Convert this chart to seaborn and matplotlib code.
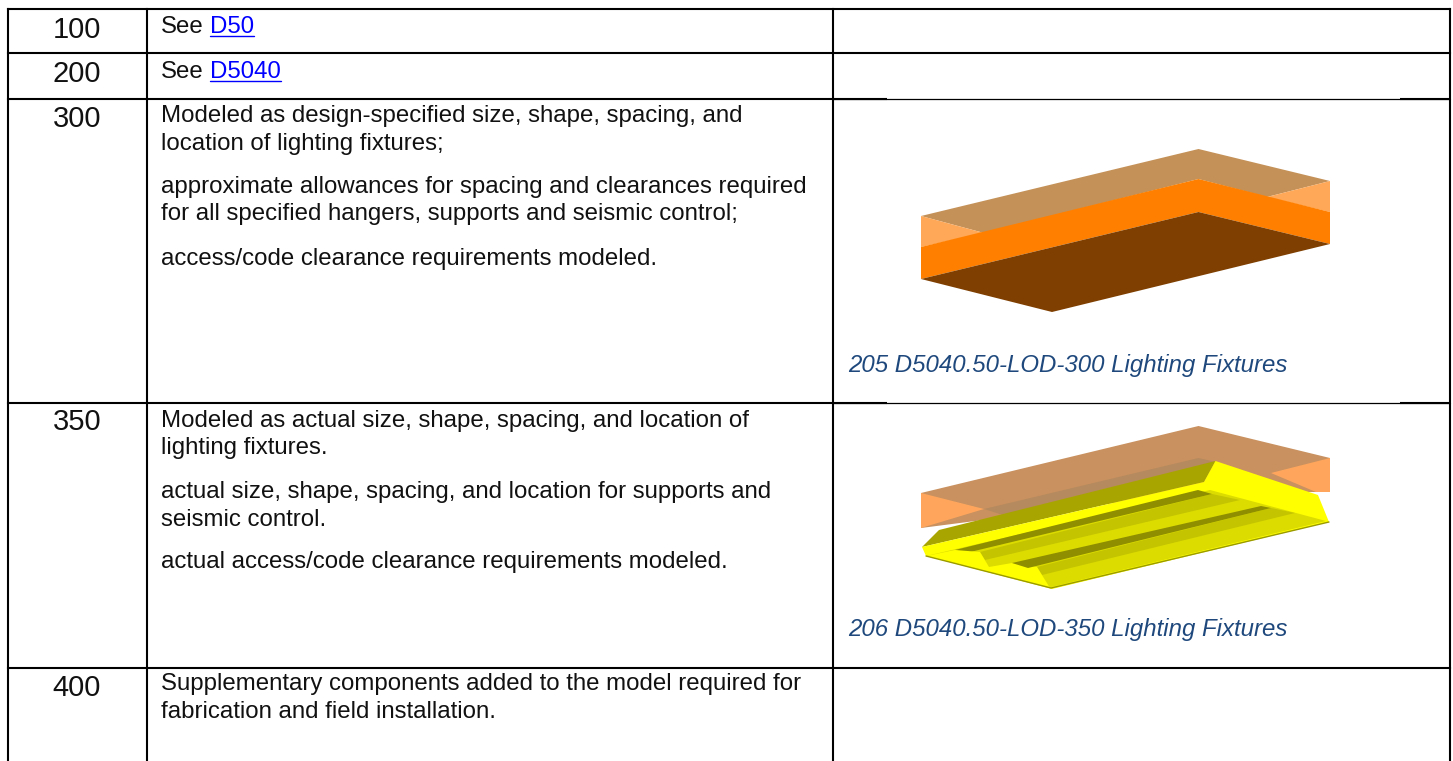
import matplotlib
matplotlib.use("Agg")
import matplotlib.pyplot as plt
import seaborn as sns
from matplotlib.patches import Polygon

LEVELS = ["100", "200", "300", "350", "400"]
LEVEL_BASE = [38, 82, 127, 430, 696]
BODY = [
    (33, "See"),
    (78, "See"),
    (122, "Modeled as design-specified size, shape, spacing, and"),
    (150, "location of lighting fixtures;"),
    (193, "approximate allowances for spacing and clearances required"),
    (220, "for all specified hangers, supports and seismic control;"),
    (264.5, "access/code clearance requirements modeled."),
    (427, "Modeled as actual size, shape, spacing, and location of"),
    (454, "lighting fixtures."),
    (498, "actual size, shape, spacing, and location for supports and"),
    (526, "seismic control."),
    (568, "actual access/code clearance requirements modeled."),
    (690, "Supplementary components added to the model required for"),
    (718, "fabrication and field installation."),
]
LINKS = [(210, 33, "D50"), (210, 78, "D5040")]
CAPTIONS = [(848.5, 372, "205 D5040.50-LOD-300 Lighting Fixtures"),
            (848.5, 636, "206 D5040.50-LOD-350 Lighting Fixtures")]

FIX300 = [
    ("#C49158", [(921, 216), (1198.5, 149), (1330, 181), (1267, 197), (1198.5, 179), (984, 233)]),
    ("#FFA857", [(921, 216), (984, 233), (921, 247)]),
    ("#FFA857", [(1330, 181), (1267, 197), (1330, 212)]),
    ("#FF8000", [(921, 247), (1198.5, 179), (1330, 212), (1330, 244), (1198.5, 212), (921, 279)]),
    ("#7F3F00", [(921, 279), (1198.5, 212), (1330, 244), (1052, 312)]),
]
FIX350 = [
    ("#C9915F", [(921, 493), (1198.5, 426), (1330, 458), (1330, 492), (1200, 492), (921, 528)]),
    ("#FFA65C", [(921, 493), (984, 509), (921, 528)]),
    ("#FFA65C", [(1330, 458), (1271, 473), (1316, 492), (1330, 492)]),
    ("#B58A5E", [(984, 509), (1198.5, 458), (1216, 462), (1003, 515)]),
    ("#A9A500", [(922, 547), (939, 530), (1215.5, 461), (1204, 482)]),
    ("#FFFF00", [(922, 547), (1204, 482), (1215.5, 461), (1318, 495), (1329, 522), (1052, 589), (926, 556)]),
    ("#DCDC00", [(926, 556), (1210, 490), (1326, 521), (1051, 587)]),
    ("#C4C400", [(980, 552), (1212, 494), (1240, 500), (985, 560)]),
    ("#C4C400", [(1037, 567), (1271, 508), (1295, 513), (1042, 575)]),
    ("#8E8E00", [(955, 550), (1198, 490), (1212, 494), (966, 553)]),
    ("#FFFF00", [(926, 556), (955, 550), (980, 552), (989, 567), (1012, 563), (1037, 567), (1050, 588)]),
    ("#8E8E00", [(1012, 563), (1261, 506), (1271, 508), (1028, 568)]),
]
COLS = [8, 146.5, 833, 1450]
ROWS_FULL = [9, 53, 668]
ROWS_GAPPED = [99, 403]
GAP_PIECES = [(833, 887), (1400, 1450)]
LEFT, RIGHT, MID, BOTTOM = 8, 1450, 833, 761

sns.set_theme(style="white")
plt.rcParams["font.family"] = ["Liberation Sans", "DejaVu Sans"]

fig = plt.figure(figsize=(14.53, 7.61), dpi=100)
ax = fig.add_axes([0, 0, 1, 1])
ax.set_xlim(0, 1453)
ax.set_ylim(761, 0)
ax.axis("off")

THICK, THIN = 1.5, 0.9
for x in COLS:
    ax.plot([x, x], [ROWS_FULL[0], BOTTOM], color="black", lw=THICK, solid_capstyle="projecting")
for y in ROWS_FULL:
    ax.plot([LEFT, RIGHT], [y, y], color="black", lw=THICK, solid_capstyle="projecting")
for y in ROWS_GAPPED:
    ax.plot([LEFT, MID], [y, y], color="black", lw=THICK, solid_capstyle="projecting")
    ax.plot([MID, RIGHT], [y, y], color="black", lw=THIN)
    for x0, x1 in GAP_PIECES:
        ax.plot([x0, x1], [y, y], color="black", lw=THICK, solid_capstyle="butt")

for color, pts in FIX300 + FIX350:
    ax.add_patch(Polygon(pts, closed=True, facecolor=color, edgecolor="none"))
ax.plot([926, 1051, 1329], [556, 588, 522], color="#9A9A00", lw=1)

for lab, y in zip(LEVELS, LEVEL_BASE):
    ax.text(77, y, lab, ha="center", va="baseline", fontsize=21, color="#111111")
for y, s in BODY:
    ax.text(161, y, s, ha="left", va="baseline", fontsize=17.25, color="#111111")
for x, y, s in LINKS:
    t = ax.text(x, y, s, ha="left", va="baseline", fontsize=17.25, color="#0000FF")
    fig.canvas.draw()
    bb = t.get_window_extent().transformed(ax.transData.inverted())
    ax.plot([bb.x0, bb.x1], [y + 2.5, y + 2.5], color="#0000FF", lw=1.0)
for x, y, s in CAPTIONS:
    ax.text(x, y, s, ha="left", va="baseline", fontsize=17.3, style="italic", color="#1F497D")

fig.savefig("out.png", dpi=100, facecolor="white")
